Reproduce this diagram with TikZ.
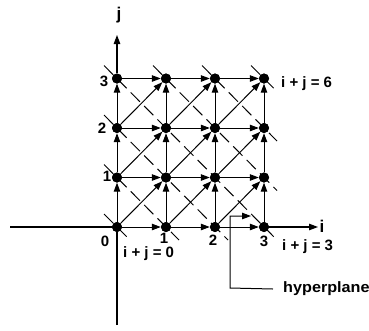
\documentclass[tikz,border=0pt]{standalone}
\usepackage{fontspec}
\setmainfont{Liberation Sans}
\usetikzlibrary{arrows.meta,calc}
\begin{document}
\begin{tikzpicture}[x=1pt,y=-1pt,
  dot/.style={circle,fill=black,inner sep=0pt,minimum size=10pt},
  tip/.style={-{Triangle[length=9pt,width=6.5pt]}},
  edge/.style={line width=1pt,tip},
  axis/.style={line width=1.1pt},
  lab/.style={font=\fontsize{15}{15}\selectfont\bfseries,inner sep=0pt},
  big/.style={font=\fontsize{17}{17}\selectfont\bfseries,inner sep=0pt},
  hp/.style={line width=1pt,dash pattern=on 13pt off 6pt}]
\useasboundingbox (0,0) rectangle (369,330);
% grid nodes
\foreach \i in {0,...,3}{\foreach \j in {0,...,3}{
  \node[dot] (n-\i-\j) at ({117+49*\i},{227-49.5*\j}) {};
}}
% axes
\coordinate (xl) at (10,227);
\coordinate (xr) at (318,227);
\coordinate (yb) at (117,325);
\coordinate (yt) at (117,35);
\draw[axis] (xl) -- (n-0-0);
\draw[axis,tip] (n-3-0) -- (xr);
\draw[axis] (yb) -- (n-0-0);
\draw[axis,tip] (n-0-3) -- (yt);
\node[big] (li) at (322,226) {i};
\node[big] (lj) at (119,15) {j};
% hyperplanes i+j=k
\foreach \k in {0,...,6}{
  \pgfmathtruncatemacro\ia{max(0,\k-3)}
  \pgfmathtruncatemacro\ja{\k-\ia}
  \pgfmathtruncatemacro\ib{min(3,\k)}
  \pgfmathtruncatemacro\jb{\k-\ib}
  \draw[hp] ([shift={(-13,-13)}]n-\ia-\ja.center) -- ([shift={(13,13)}]n-\ib-\jb.center);
}
% dependence arrows
\foreach \i in {0,...,3}{\foreach \j in {0,...,3}{
  \pgfmathtruncatemacro\ni{\i+1}
  \pgfmathtruncatemacro\nj{\j+1}
  \ifnum\i<3 \draw[edge] (n-\i-\j) -- (n-\ni-\j); \fi
  \ifnum\j<3 \draw[edge] (n-\i-\j) -- (n-\i-\nj); \fi
  \ifnum\i<3 \ifnum\j<3 \draw[edge] (n-\i-\j) -- (n-\ni-\nj); \fi\fi
}}
% redraw dots on top
\foreach \i in {0,...,3}{\foreach \j in {0,...,3}{
  \fill (n-\i-\j.center) circle (5pt);
}}
% axis labels
\node[lab] (t0) at (105,241) {0};
\node[lab] (t1) at (164,238) {1};
\node[lab] (t2) at (213,240) {2};
\node[lab] (t3) at (264,241) {3};
\node[lab] (s1) at (107,176) {1};
\node[lab] (s2) at (102,128) {2};
\node[lab] (s3) at (104,81) {3};
\node[lab,anchor=west] (e0) at (123,254) {i + j = 0};
\node[lab,anchor=west] (e3) at (282,247) {i + j = 3};
\node[lab,anchor=west] (e6) at (281,84) {i + j = 6};
% hyperplane pointer
\node[lab,anchor=west] (hyp) at (283,289) {\scalebox{1.08}[1]{hyperplane}};
\coordinate (hc) at (230,288);
\coordinate (ht) at (230,216);
\coordinate (ha) at (251,216);
\draw[line width=1pt,tip] ([xshift=-10pt]hyp.west) -- (hc) -- (ht) -- (ha);
\end{tikzpicture}
\end{document}
